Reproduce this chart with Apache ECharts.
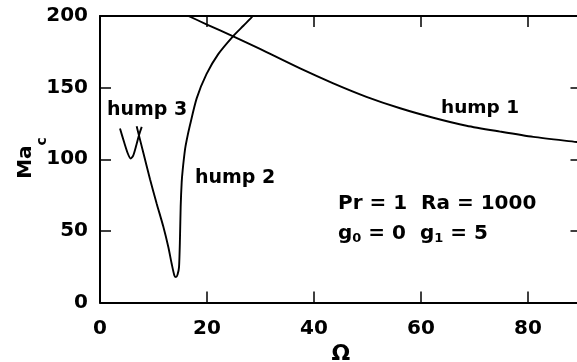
<!DOCTYPE html>
<html lang="en">

<head>
	<meta charset="UTF-8">
	<title>Ma_c vs Omega</title>
	<script src="https://cdn.jsdelivr.net/npm/echarts@6.0.0/dist/echarts.min.js"></script>
	<style>
		html, body { margin: 0; padding: 0; background: #fff; }
		#chart { width: 577px; height: 362px; }
	</style>
</head>

<body>
	<div id="chart"></div>
	<script>
		// curves: Omega on x, critical Marangoni number on y
		var hump1Omega = [16.0, 20, 24.9, 29.9, 37.4, 43.6, 49.8, 56.1, 62.3, 68.5, 74.8, 81, 89.1, 90];
		var hump1Ma = [201, 194, 185.8, 177, 163.4, 153, 143.6, 135.6, 129, 123.4, 119.3, 115.6, 112, 111.6];

		var hump2Omega = [6.85, 8.1, 9.35, 10.6, 11.83, 12.77, 13.4, 13.9, 14.2, 14.5, 14.77, 14.95, 15.08, 15.27, 15.45, 15.9, 16.2, 16.8, 18.07, 19.9, 22.1, 24.9, 26.8, 28.65, 29];
		var hump2Ma = [123, 104.5, 86, 69, 53, 38.7, 27, 18.9, 17.7, 19.5, 24.7, 45, 67, 84, 92.3, 107, 113.3, 123.5, 142.5, 159.4, 173.4, 186, 193.2, 200.2, 202];

		var hump3Omega = [3.74, 4.5, 5.2, 5.73, 6.2, 6.8, 7.3, 7.8];
		var hump3Ma = [121.4, 112, 104, 100.5, 102.5, 110, 117, 122.6];

		var xTicks = [0, 20, 40, 60, 80];

		function pairs(xs, ys) {
			return xs.map(function (x, i) { return [x, ys[i]]; });
		}

		var FONT = '"DejaVu Sans", sans-serif';

		function curve(name, xs, ys) {
			return {
				name: name,
				type: 'line',
				data: pairs(xs, ys),
				showSymbol: false,
				symbol: 'none',
				smooth: 0.25,
				clip: true,
				lineStyle: { color: '#000', width: 1.9 }
			};
		}

		var axisLine = { show: true, onZero: false, lineStyle: { color: '#000', width: 2 } };
		var tickIn = { show: true, inside: true, length: 11, lineStyle: { color: '#000', width: 1.5 } };
		var tickLabel = { color: '#000', fontFamily: FONT, fontWeight: 'bold', fontSize: 20 };

		var chart = echarts.init(document.getElementById('chart'));

		var option = {
			animation: false,
			backgroundColor: '#fff',
			grid: { left: 100, top: 16, width: 481.5, height: 286.5, containLabel: false, outerBoundsMode: 'none' },
			xAxis: [
				{
					type: 'value', min: 0, max: 90, interval: 20, position: 'bottom',
					axisLine: axisLine, axisTick: tickIn,
					axisLabel: Object.assign({ margin: 16, customValues: xTicks }, tickLabel),
					splitLine: { show: false },
					name: 'Ω', nameLocation: 'middle', nameGap: 40,
					nameTextStyle: { color: '#000', fontFamily: FONT, fontWeight: 'bold', fontSize: 22 }
				},
				{
					type: 'value', min: 0, max: 90, interval: 20, position: 'top',
					axisLine: axisLine, axisTick: tickIn,
					axisLabel: { show: false }, splitLine: { show: false }
				}
			],
			yAxis: [
				{
					type: 'value', min: 0, max: 200, interval: 50, position: 'left',
					axisLine: axisLine, axisTick: tickIn,
					axisLabel: Object.assign({ margin: 12 }, tickLabel),
					splitLine: { show: false }
				},
				{
					type: 'value', min: 0, max: 200, interval: 50, position: 'right',
					axisLine: axisLine, axisTick: tickIn,
					axisLabel: { show: false }, splitLine: { show: false }
				}
			],
			series: [
				curve('hump 1', hump1Omega, hump1Ma),
				curve('hump 2', hump2Omega, hump2Ma),
				curve('hump 3', hump3Omega, hump3Ma)
			],
			graphic: [
				{
					type: 'text', x: 42.5, y: 158, rotation: Math.PI / 2,
					style: {
						text: '{m|Ma}{s|c}', align: 'center', verticalAlign: 'middle', fill: '#000',
						rich: {
							m: { fontFamily: FONT, fontWeight: 'bold', fontSize: 20, lineHeight: 20, verticalAlign: 'top' },
							s: { fontFamily: FONT, fontWeight: 'bold', fontSize: 14, lineHeight: 54 }
						}
					}
				},
				{ type: 'text', x: 107, y: 110, style: { text: 'hump 3', fontFamily: FONT, fontWeight: 'bold', fontSize: 19, fill: '#000', verticalAlign: 'middle' } },
				{ type: 'text', x: 195, y: 178, style: { text: 'hump 2', fontFamily: FONT, fontWeight: 'bold', fontSize: 19, fill: '#000', verticalAlign: 'middle' } },
				{ type: 'text', x: 441, y: 108, style: { text: 'hump 1', fontFamily: FONT, fontWeight: 'bold', fontSize: 18.5, fill: '#000', verticalAlign: 'middle' } },
				{ type: 'text', x: 338, y: 203.5, style: { text: 'Pr = 1  Ra = 1000', fontFamily: FONT, fontWeight: 'bold', fontSize: 20, fill: '#000', verticalAlign: 'middle' } },
				{
					type: 'text', x: 338, y: 223.5,
					style: {
						text: '{m|g}{s|0}{m| = 0  g}{s|1}{m| = 5}', fill: '#000', verticalAlign: 'top',
						rich: {
							m: { fontFamily: FONT, fontWeight: 'bold', fontSize: 20, lineHeight: 20, verticalAlign: 'top' },
							s: { fontFamily: FONT, fontWeight: 'bold', fontSize: 13, lineHeight: 30 }
						}
					}
				}
			]
		};
		chart.setOption(option);
	</script>
</body>

</html>
